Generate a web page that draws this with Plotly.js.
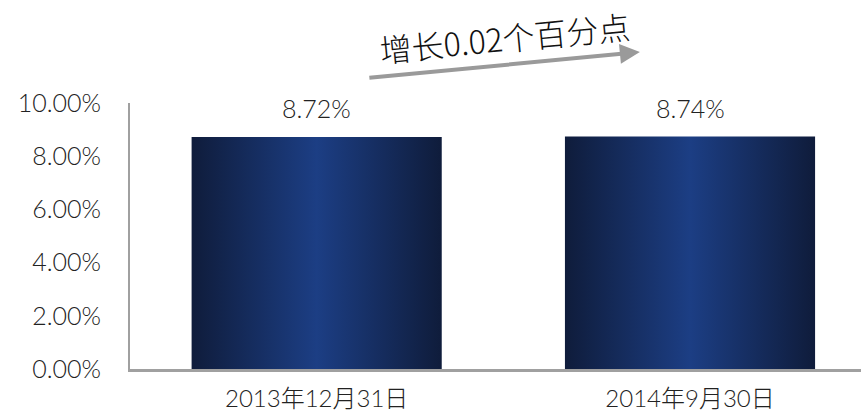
<!DOCTYPE html>
<html>
<head>
<meta charset="utf-8">
<script src="https://cdn.plot.ly/plotly-3.0.1.min.js"></script>
<style>html,body{margin:0;padding:0;background:#fff;}#chart{width:861px;height:415px;}</style>
</head>
<body>
<div id="chart"></div>
<script>
const categories = ["2013年12月31日", "2014年9月30日"];
const values = [8.72, 8.74];
const valueLabels = ["8.72%", "8.74%"];
const yTickValues = [0, 2, 4, 6, 8, 10];
const yTickLabels = ["0.00%", "2.00%", "4.00%", "6.00%", "8.00%", "10.00%"];
const noteText = "增长0.02个百分点";

const fontFam = "Lato, 'Noto Sans CJK SC', sans-serif";

const trace = {
  type: "bar",
  x: categories,
  y: values,
  marker: {color: "#1a3a7c", line: {width: 0}},
  hoverinfo: "none"
};

const annotations = categories.map((c, i) => ({
  x: c, y: values[i], xref: "x", yref: "y",
  text: valueLabels[i], showarrow: false,
  xanchor: "center", yanchor: "bottom", yshift: 12,
  font: {family: fontFam, size: 25, color: "#222", weight: 300}
}));

annotations.push({
  xref: "paper", yref: "paper", x: 0.6975, y: 1.1917,
  ax: -272, ay: 26, axref: "pixel", ayref: "pixel",
  text: "", showarrow: true, arrowhead: 2, arrowsize: 1,
  arrowwidth: 4, arrowcolor: "#9a9a9a"
});
annotations.push({
  xref: "paper", yref: "paper", x: 0.5127, y: 1.25,
  xanchor: "center", yanchor: "middle",
  text: noteText, showarrow: false, textangle: -5.5,
  font: {family: "'Noto Sans CJK SC', sans-serif", size: 32, color: "#111", weight: 300}
});

const layout = {
  width: 861, height: 415,
  margin: {l: 130, r: 0, t: 103, b: 46},
  paper_bgcolor: "#fff", plot_bgcolor: "#fff",
  showlegend: false,
  bargap: 0.33,
  xaxis: {
    type: "category",
    range: [-0.5, 1.458],
    showline: true, linecolor: "#a0a0a0", linewidth: 2.5,
    showgrid: false, ticks: "", zeroline: false,
    tickfont: {family: fontFam, size: 24, color: "#222", weight: 300},
    ticklabelstandoff: 7
  },
  yaxis: {
    range: [0, 10], tickvals: yTickValues, ticktext: yTickLabels,
    showline: true, linecolor: "#a0a0a0", linewidth: 2,
    showgrid: false, zeroline: false, ticks: "",
    tickfont: {family: fontFam, size: 25, color: "#222", weight: 300},
    ticklabelstandoff: 22
  },
  annotations: annotations
};

Plotly.newPlot("chart", [trace], layout, {staticPlot: true}).then(() => {
  const svg = document.querySelector("#chart .main-svg");
  const ns = "http://www.w3.org/2000/svg";
  let defs = svg.querySelector("defs");
  if (!defs) { defs = document.createElementNS(ns, "defs"); svg.insertBefore(defs, svg.firstChild); }
  const g = document.createElementNS(ns, "linearGradient");
  g.setAttribute("id", "barGrad");
  g.setAttribute("x1", "0"); g.setAttribute("y1", "0");
  g.setAttribute("x2", "1"); g.setAttribute("y2", "0");
  [["0", "#0f1c3b"], ["0.5", "#1c3e84"], ["1", "#0f1c3b"]].forEach(([o, c]) => {
    const s = document.createElementNS(ns, "stop");
    s.setAttribute("offset", o); s.setAttribute("stop-color", c);
    g.appendChild(s);
  });
  defs.appendChild(g);
  document.querySelectorAll("#chart .point path").forEach(p => {
    p.style.fill = "url(#barGrad)";
  });
});
</script>
</body>
</html>
